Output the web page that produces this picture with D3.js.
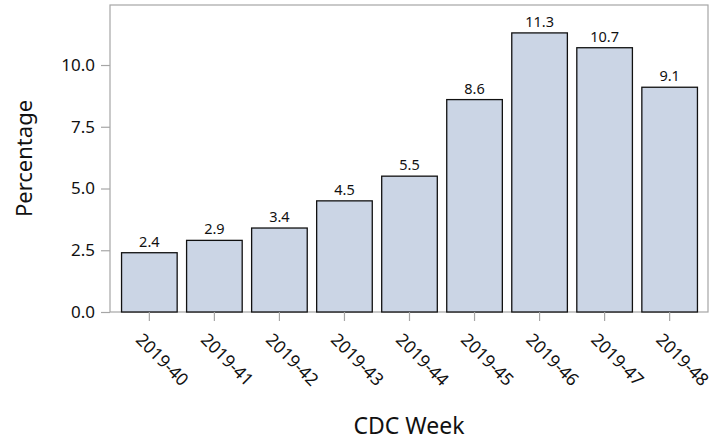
<!DOCTYPE html>
<html>
<head>
<meta charset="utf-8">
<script src="https://cdn.jsdelivr.net/npm/d3@7"></script>
<style>
  body { margin: 0; background: white; }
  text { font-family: "Noto Sans", "Open Sans", sans-serif; fill: #111; }
</style>
</head>
<body>
<script>
const weeks = ["2019-40", "2019-41", "2019-42", "2019-43", "2019-44", "2019-45", "2019-46", "2019-47", "2019-48"];
const percentages = [2.4, 2.9, 3.4, 4.5, 5.5, 8.6, 11.3, 10.7, 9.1];
const yTicks = [0, 2.5, 5, 7.5, 10];

const width = 714;
const height = 440;
const margin = {top: 5, right: 6, bottom: 128, left: 110};
const innerW = width - margin.left - margin.right;
const innerH = height - margin.top - margin.bottom;

const svg = d3.select("body")
  .append("svg")
  .attr("width", width)
  .attr("height", height);

const g = svg.append("g")
  .attr("transform", `translate(${margin.left}, ${margin.top})`);

const x = d3.scaleBand()
  .domain(weeks)
  .range([7, innerW - 6])
  .paddingInner(0.145)
  .paddingOuter(0.07);

const y = d3.scaleLinear()
  .domain([0, 12.43])
  .range([innerH, 0]);

// marco del grafico
g.append("rect")
  .attr("width", innerW)
  .attr("height", innerH)
  .attr("fill", "none")
  .attr("stroke", "#a6a6a6")
  .attr("stroke-width", 1.2);

// barras
g.selectAll(".bar")
  .data(percentages)
  .join("rect")
  .attr("class", "bar")
  .attr("x", (d, i) => x(weeks[i]))
  .attr("y", d => y(d))
  .attr("width", x.bandwidth())
  .attr("height", d => innerH - y(d))
  .attr("fill", "#cbd5e5")
  .attr("stroke", "#111")
  .attr("stroke-width", 1.3);

// etiquetas sobre barras
g.selectAll(".lbl")
  .data(percentages)
  .join("text")
  .attr("class", "lbl")
  .attr("x", (d, i) => x(weeks[i]) + x.bandwidth() / 2)
  .attr("y", d => y(d) - 6)
  .attr("text-anchor", "middle")
  .style("font-size", "14.5px")
  .text(d => d.toFixed(1));

// eje y
const yAxis = g.append("g")
  .call(d3.axisLeft(y).tickValues(yTicks).tickFormat(d3.format(".1f")).tickSize(9).tickPadding(6));
yAxis.select(".domain").remove();
yAxis.selectAll("line").attr("stroke", "#a6a6a6").attr("stroke-width", 1.2);
yAxis.selectAll("text").style("font-size", "17px").attr("fill", "#111");

// eje x
const xAxis = g.append("g")
  .attr("transform", `translate(0, ${innerH})`)
  .call(d3.axisBottom(x).tickSize(9).tickPadding(0));
xAxis.select(".domain").remove();
xAxis.selectAll("line").attr("stroke", "#a6a6a6").attr("stroke-width", 1.2);
xAxis.selectAll("text")
  .style("font-size", "17.5px")
  .attr("fill", "#111")
  .attr("text-anchor", "start")
  .attr("dy", "0.35em")
  .attr("transform", "translate(-4, 18) rotate(45)");

// titulos de ejes
svg.append("text")
  .attr("x", margin.left + innerW / 2)
  .attr("y", 434)
  .attr("text-anchor", "middle")
  .style("font-size", "23px")
  .text("CDC Week");

svg.append("text")
  .attr("transform", `translate(32, ${margin.top + innerH / 2}) rotate(-90)`)
  .attr("text-anchor", "middle")
  .style("font-size", "22px")
  .text("Percentage");
</script>
</body>
</html>
